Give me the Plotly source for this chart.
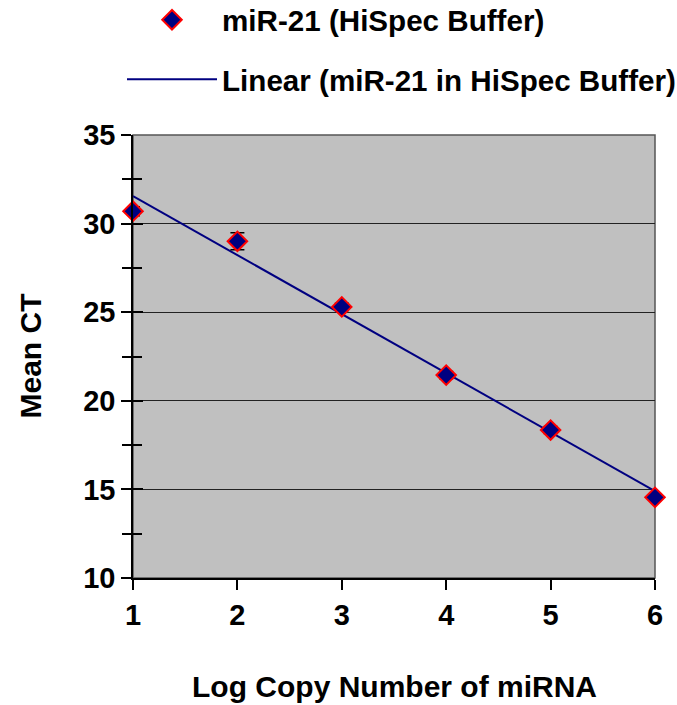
import numpy as np
import plotly.graph_objects as go

log_copy = [1, 2, 3, 4, 5, 6]
mean_ct = [30.7, 29.0, 25.3, 21.45, 18.35, 14.55]
ct_err = [0.25, 0.48, 0.2, 0.2, 0.2, 0.15]
y_ticks = [10, 15, 20, 25, 30, 35]
x_ticks = [1, 2, 3, 4, 5, 6]
x_title = "Log Copy Number of miRNA"
y_title = "Mean CT"

slope, intercept = np.polyfit(log_copy, mean_ct, 1)
fit_x = [log_copy[0], log_copy[-1]]
fit_y = [slope * v + intercept for v in fit_x]

FONT = "Liberation Sans, Arial, sans-serif"
NAVY = "#000080"
W, H = 677, 705

fig = go.Figure()
fig.add_trace(go.Scatter(
    x=fit_x, y=fit_y, mode="lines", name="Linear (miR-21 in HiSpec Buffer)",
    line=dict(color=NAVY, width=2), legendrank=2, legendgroup="b", cliponaxis=False))
fig.add_trace(go.Scatter(
    x=log_copy, y=mean_ct, mode="markers", name="miR-21 (HiSpec Buffer)",
    marker=dict(symbol="diamond", size=15, color=NAVY, line=dict(color="#ff0000", width=2)),
    error_y=dict(type="data", array=ct_err, color="black", thickness=1.5, width=7),
    legendrank=1, legendgroup="a", cliponaxis=False))
# invisible trace for inward y ticks
fig.add_trace(go.Scatter(x=[1], y=[10], yaxis="y2", mode="markers",
                         marker=dict(opacity=0), showlegend=False, hoverinfo="skip"))

fig.update_layout(
    width=W, height=H,
    margin=dict(l=133, r=22, t=135, b=127, autoexpand=False),
    paper_bgcolor="white", plot_bgcolor="#c0c0c0",
    font=dict(family=FONT, color="black", size=30),
    showlegend=True,
    legend=dict(x=(122 - 133) / 522, xanchor="left",
                y=1 + 141 / 443, yanchor="top",
                font=dict(family=FONT, size=29.6, color="black", weight="bold"),
                bgcolor="rgba(0,0,0,0)", tracegroupgap=18, itemwidth=90,
                traceorder="grouped"),
    xaxis=dict(range=[1, 6], tickvals=x_ticks, ticks="outside", ticklen=10,
               tickwidth=1.5, tickcolor="black", showline=True, linecolor="black",
               linewidth=1.5, showgrid=False, zeroline=False,
               tickfont=dict(size=29, weight="bold")),
    yaxis=dict(range=[10, 35], tickvals=y_ticks, ticks="outside", ticklen=10,
               tickwidth=1.5, tickcolor="black", showline=True, linecolor="black",
               linewidth=1.5, showgrid=True, gridcolor="#222222", gridwidth=1,
               zeroline=False,
               minor=dict(dtick=2.5, tick0=10, ticks="outside", ticklen=9,
                          tickcolor="black", tickwidth=1.5, showgrid=False),
               tickfont=dict(size=29, weight="bold")),
    yaxis2=dict(range=[10, 35], overlaying="y", side="left", tickvals=y_ticks,
                ticks="inside", ticklen=10, tickwidth=1.5, tickcolor="black",
                showticklabels=False, showgrid=False, zeroline=False, showline=False,
                minor=dict(dtick=2.5, tick0=10, ticks="inside", ticklen=9,
                           tickcolor="black", tickwidth=1.5)),
    shapes=[dict(type="rect", xref="paper", yref="paper", x0=0, x1=1, y0=0, y1=1,
                 line=dict(color="#555555", width=1.5), layer="below")],
    annotations=[
        dict(text=x_title, xref="paper", yref="paper", x=0.5, y=-(686 - 578) / 443,
             xanchor="center", yanchor="middle", showarrow=False,
             font=dict(size=30, weight="bold")),
        dict(text=y_title, xref="paper", yref="paper", x=-(133 - 30) / 522, y=0.5,
             xanchor="center", yanchor="middle", showarrow=False, textangle=-90,
             font=dict(size=30, weight="bold")),
    ],
)

fig.write_html("out.html")
